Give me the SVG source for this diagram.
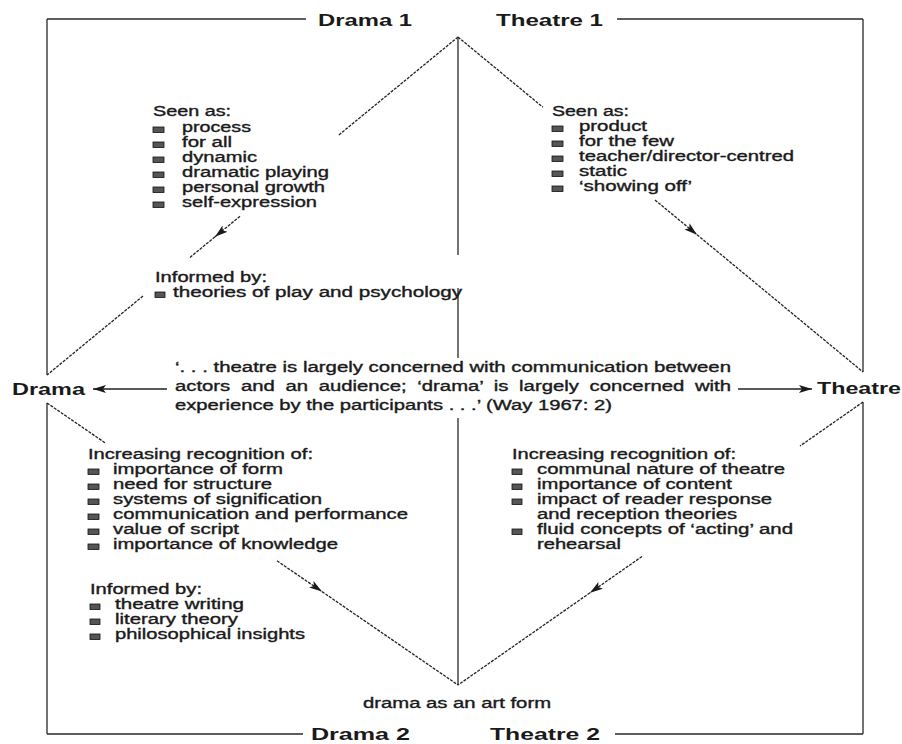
<svg xmlns="http://www.w3.org/2000/svg" width="902" height="744" viewBox="0 0 902 744">
<defs>
<style>
text{font-family:"Liberation Sans",Arial,Helvetica,sans-serif;fill:#1a1a1a}
.t{font-size:14px;stroke:#1a1a1a;stroke-width:0.35}
.h{font-size:17px;font-weight:bold}
.frame{fill:none;stroke:#2a2a2a;stroke-width:1.3}
.axis{fill:none;stroke:#2a2a2a;stroke-width:1.3}
.dash{fill:none;stroke:#222;stroke-width:1.3;stroke-dasharray:3 1.2}
.arr{fill:none;stroke:#222;stroke-width:1.4}
.b{fill:#555;stroke:#111;stroke-width:0.8}
</style>
<marker id="ah" markerUnits="userSpaceOnUse" markerWidth="14" markerHeight="10" refX="13" refY="4" orient="auto" viewBox="0 0 14 8">
<path d="M0,0 L13,4 L0,8 L3,4 Z" fill="#1a1a1a"/>
</marker>
</defs>
<rect width="902" height="744" fill="#fff"/>

<g id="connectors">
<path class="frame" d="M47,19 H306 M617,19 H863 M47,734 H303 M615,734 H863 M47,19 V375 M47,403 V734 M863,19 V372 M863,402 V734"/>
<path class="axis" d="M458,37 V255 M458,288 V358 M458,418 V685"/>
<path class="dash" d="M458,37 L338,135.7 M143,296 L47,375 M458,37 L543,107.3 M47,403 L105,442.8 M863,402 L800,446"/>
<path class="dash" d="M240,216.3 L215,236.8" marker-end="url(#ah)"/>
<path class="dash" d="M215,236.8 L190,257.4"/>
<path class="dash" d="M655,200 L697,234.7" marker-end="url(#ah)"/>
<path class="dash" d="M697,234.7 L863,372"/>
<path class="dash" d="M277,560.8 L322,591.6" marker-end="url(#ah)"/>
<path class="dash" d="M322,591.6 L458,685"/>
<path class="dash" d="M642,556.5 L590,592.8" marker-end="url(#ah)"/>
<path class="dash" d="M590,592.8 L458,685"/>
<path class="arr" d="M167,389 H93" marker-end="url(#ah)"/>
<path class="arr" d="M738,389 H812" marker-end="url(#ah)"/>
</g>

<g id="drama1"><text class="h" x="318" y="26" textLength="94" lengthAdjust="spacingAndGlyphs">Drama 1</text></g>
<g id="theatre1"><text class="h" x="496" y="26" textLength="107" lengthAdjust="spacingAndGlyphs">Theatre 1</text></g>
<g id="drama2"><text class="h" x="311" y="740" textLength="99" lengthAdjust="spacingAndGlyphs">Drama 2</text></g>
<g id="theatre2"><text class="h" x="490" y="740" textLength="110" lengthAdjust="spacingAndGlyphs">Theatre 2</text></g>
<g id="drama"><text class="h" x="12" y="395" textLength="73" lengthAdjust="spacingAndGlyphs">Drama</text></g>
<g id="theatre"><text class="h" x="817" y="394" textLength="84" lengthAdjust="spacingAndGlyphs">Theatre</text></g>

<g id="drama1-seen">
<text class="t" x="153" y="116" textLength="78" lengthAdjust="spacingAndGlyphs">Seen as:</text>
<rect class="b" x="153" y="127" width="11" height="5.5"/>
<text class="t" x="182" y="132" textLength="69" lengthAdjust="spacingAndGlyphs">process</text>
<rect class="b" x="153" y="142" width="11" height="5.5"/>
<text class="t" x="182" y="147" textLength="50" lengthAdjust="spacingAndGlyphs">for all</text>
<rect class="b" x="153" y="157" width="11" height="5.5"/>
<text class="t" x="182" y="162" textLength="75" lengthAdjust="spacingAndGlyphs">dynamic</text>
<rect class="b" x="153" y="172" width="11" height="5.5"/>
<text class="t" x="182" y="177" textLength="147" lengthAdjust="spacingAndGlyphs">dramatic playing</text>
<rect class="b" x="153" y="187" width="11" height="5.5"/>
<text class="t" x="182" y="192" textLength="143" lengthAdjust="spacingAndGlyphs">personal growth</text>
<rect class="b" x="153" y="202" width="11" height="5.5"/>
<text class="t" x="182" y="207" textLength="135" lengthAdjust="spacingAndGlyphs">self-expression</text>
</g>

<g id="drama1-informed">
<text class="t" x="155" y="282" textLength="112" lengthAdjust="spacingAndGlyphs">Informed by:</text>
<rect class="b" x="155" y="292" width="10" height="5.5"/>
<text class="t" x="173" y="297" textLength="289" lengthAdjust="spacingAndGlyphs">theories of play and psychology</text>
</g>

<g id="theatre1-seen">
<text class="t" x="552" y="116" textLength="77" lengthAdjust="spacingAndGlyphs">Seen as:</text>
<rect class="b" x="552" y="126" width="11" height="5.5"/>
<text class="t" x="579" y="131" textLength="68" lengthAdjust="spacingAndGlyphs">product</text>
<rect class="b" x="552" y="141" width="11" height="5.5"/>
<text class="t" x="579" y="146" textLength="95" lengthAdjust="spacingAndGlyphs">for the few</text>
<rect class="b" x="552" y="156" width="11" height="5.5"/>
<text class="t" x="579" y="161" textLength="215" lengthAdjust="spacingAndGlyphs">teacher/director-centred</text>
<rect class="b" x="552" y="171" width="11" height="5.5"/>
<text class="t" x="579" y="176" textLength="48" lengthAdjust="spacingAndGlyphs">static</text>
<rect class="b" x="552" y="186" width="11" height="5.5"/>
<text class="t" x="579" y="191" textLength="113" lengthAdjust="spacingAndGlyphs">‘showing off’</text>
</g>

<g id="quote">
<text class="t" x="175" y="372" textLength="556" lengthAdjust="spacingAndGlyphs">‘. . . theatre is largely concerned with communication between</text>
<text class="t" x="175" y="391" textLength="556" lengthAdjust="spacingAndGlyphs" word-spacing="3.5">actors and an audience; ‘drama’ is largely concerned with</text>
<text class="t" x="175" y="410" textLength="437" lengthAdjust="spacingAndGlyphs">experience by the participants . . .’ (Way 1967: 2)</text>
</g>

<g id="drama2-recognition">
<text class="t" x="88" y="459" textLength="225" lengthAdjust="spacingAndGlyphs">Increasing recognition of:</text>
<rect class="b" x="88" y="469" width="11" height="5.5"/>
<text class="t" x="113" y="474" textLength="170" lengthAdjust="spacingAndGlyphs">importance of form</text>
<rect class="b" x="88" y="484" width="11" height="5.5"/>
<text class="t" x="113" y="489" textLength="159" lengthAdjust="spacingAndGlyphs">need for structure</text>
<rect class="b" x="88" y="499" width="11" height="5.5"/>
<text class="t" x="113" y="504" textLength="209" lengthAdjust="spacingAndGlyphs">systems of signification</text>
<rect class="b" x="88" y="514" width="11" height="5.5"/>
<text class="t" x="113" y="519" textLength="295" lengthAdjust="spacingAndGlyphs">communication and performance</text>
<rect class="b" x="88" y="529" width="11" height="5.5"/>
<text class="t" x="113" y="534" textLength="126" lengthAdjust="spacingAndGlyphs">value of script</text>
<rect class="b" x="88" y="544" width="11" height="5.5"/>
<text class="t" x="113" y="549" textLength="225" lengthAdjust="spacingAndGlyphs">importance of knowledge</text>
</g>

<g id="drama2-informed">
<text class="t" x="90" y="594" textLength="112" lengthAdjust="spacingAndGlyphs">Informed by:</text>
<rect class="b" x="90" y="604" width="10" height="5.5"/>
<text class="t" x="115" y="609" textLength="129" lengthAdjust="spacingAndGlyphs">theatre writing</text>
<rect class="b" x="90" y="619" width="10" height="5.5"/>
<text class="t" x="115" y="624" textLength="123" lengthAdjust="spacingAndGlyphs">literary theory</text>
<rect class="b" x="90" y="634" width="10" height="5.5"/>
<text class="t" x="115" y="639" textLength="190" lengthAdjust="spacingAndGlyphs">philosophical insights</text>
</g>

<g id="theatre2-recognition">
<text class="t" x="512" y="459" textLength="224" lengthAdjust="spacingAndGlyphs">Increasing recognition of:</text>
<rect class="b" x="512" y="469" width="10" height="5.5"/>
<text class="t" x="537" y="474" textLength="248" lengthAdjust="spacingAndGlyphs">communal nature of theatre</text>
<rect class="b" x="512" y="484" width="10" height="5.5"/>
<text class="t" x="537" y="489" textLength="195" lengthAdjust="spacingAndGlyphs">importance of content</text>
<rect class="b" x="512" y="499" width="10" height="5.5"/>
<text class="t" x="537" y="504" textLength="235" lengthAdjust="spacingAndGlyphs">impact of reader response</text>
<text class="t" x="537" y="519" textLength="200" lengthAdjust="spacingAndGlyphs">and reception theories</text>
<rect class="b" x="512" y="529" width="10" height="5.5"/>
<text class="t" x="537" y="534" textLength="256" lengthAdjust="spacingAndGlyphs">fluid concepts of ‘acting’ and</text>
<text class="t" x="537" y="549" textLength="84" lengthAdjust="spacingAndGlyphs">rehearsal</text>
</g>

<g id="art-form">
<text class="t" x="363" y="708" textLength="188" lengthAdjust="spacingAndGlyphs">drama as an art form</text>
</g>
</svg>
